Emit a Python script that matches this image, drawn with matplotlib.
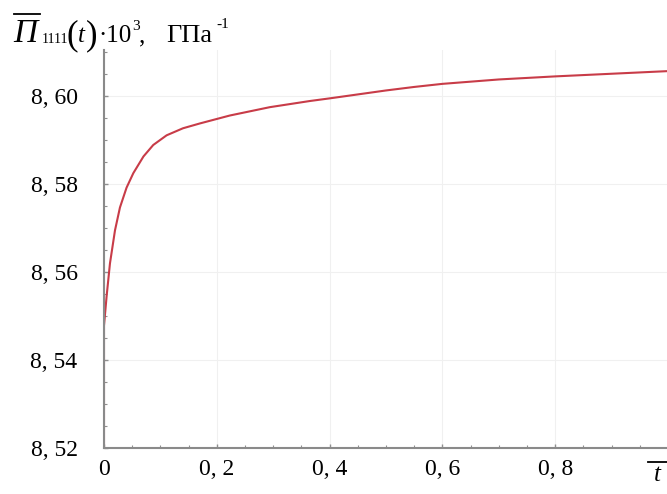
import matplotlib
matplotlib.use("Agg")
import matplotlib.pyplot as plt
from matplotlib.lines import Line2D
from matplotlib.ticker import MultipleLocator, FixedLocator

t_vals = [0.0, 0.0, 0.0047, 0.0106, 0.0195, 0.0283, 0.040, 0.052, 0.070, 0.0873, 0.111,
          0.140, 0.170, 0.223, 0.294, 0.365, 0.4, 0.45, 0.5, 0.55, 0.6, 0.7, 0.8, 0.9, 1.0]
p_vals = [8.52, 8.5478, 8.5546, 8.5620, 8.5695, 8.5747, 8.5792, 8.5825, 8.5863, 8.5889,
          8.5911, 8.5927, 8.5938, 8.5956, 8.5975, 8.5989, 8.5995, 8.6004, 8.6013, 8.6021,
          8.6028, 8.6038, 8.6045, 8.6051, 8.6057]
x_ticks = [0, 0.2, 0.4, 0.6, 0.8]
x_labels = ["0", "0, 2", "0, 4", "0, 6", "0, 8"]
y_ticks = [8.52, 8.54, 8.56, 8.58, 8.60]
y_labels = ["8, 52", "8, 54", "8, 56", "8, 58", "8, 60"]

plt.rcParams['font.family'] = ['Liberation Serif', 'DejaVu Serif']

W, H = 667, 494
fig = plt.figure(figsize=(W / 100, H / 100), dpi=100)
left, right, bottom, top = 104, 668, 448, 50
ax = fig.add_axes([left / W, 1 - bottom / H, (right - left) / W, (bottom - top) / H])

ax.plot(t_vals, p_vals, color='#c83c48', lw=1.5, solid_capstyle='butt',
        solid_joinstyle='round')

ax.set_xlim(0, 1.0)
ax.set_ylim(8.52, 8.6105)

ax.xaxis.set_major_locator(FixedLocator(x_ticks))
ax.set_xticklabels(x_labels)
ax.xaxis.set_minor_locator(MultipleLocator(0.05))
ax.yaxis.set_major_locator(FixedLocator(y_ticks))
ax.set_yticklabels(y_labels)
ax.yaxis.set_minor_locator(MultipleLocator(0.005))

ax.tick_params(which='both', direction='in', colors='#909090', labelcolor='black',
               labelsize=17)
ax.tick_params(which='major', length=3, width=1)
ax.tick_params(which='minor', length=2, width=0.8)
ax.tick_params(axis='y', pad=19)
ax.tick_params(axis='x', pad=8)

ax.grid(True, which='major', color='#f0f0f0', lw=0.8)
for s in ['top', 'right']:
    ax.spines[s].set_visible(False)
for s in ['left', 'bottom']:
    ax.spines[s].set_color('#8a8a8a')
    ax.spines[s].set_linewidth(1.5)

# title pieces: (text, x px, baseline y px, fontsize, style)
title_parts = [
    ("Π", 13, 42, 24, 'italic'),
    ("1111", 42, 43, 10, 'normal'),
    ("(", 66, 44, 25, 'normal'),
    ("t", 78, 42, 18, 'italic'),
    (")", 86, 44, 25, 'normal'),
    ("·10", 98, 42, 18, 'normal'),
    ("3", 132, 30, 11, 'normal'),
    (",", 139, 42, 18, 'normal'),
    ("ГПа", 166, 42, 19, 'normal'),
    ("-1", 216, 28, 11, 'normal'),
]
for txt, px, py, fs, st in title_parts:
    fig.text(px / W, 1 - py / H, txt, fontsize=fs, fontstyle=st,
             ha='left', va='baseline')
fig.add_artist(Line2D([14 / W, 40 / W], [1 - 14 / H, 1 - 14 / H],
                      color='black', lw=1.3, transform=fig.transFigure))

fig.text(657 / W, 1 - 481 / H, "t", fontsize=18, fontstyle='italic',
         ha='center', va='baseline')
fig.add_artist(Line2D([648 / W, 667 / W], [1 - 462 / H, 1 - 462 / H],
                      color='black', lw=1.3, transform=fig.transFigure))

fig.savefig('out.png', dpi=100)
